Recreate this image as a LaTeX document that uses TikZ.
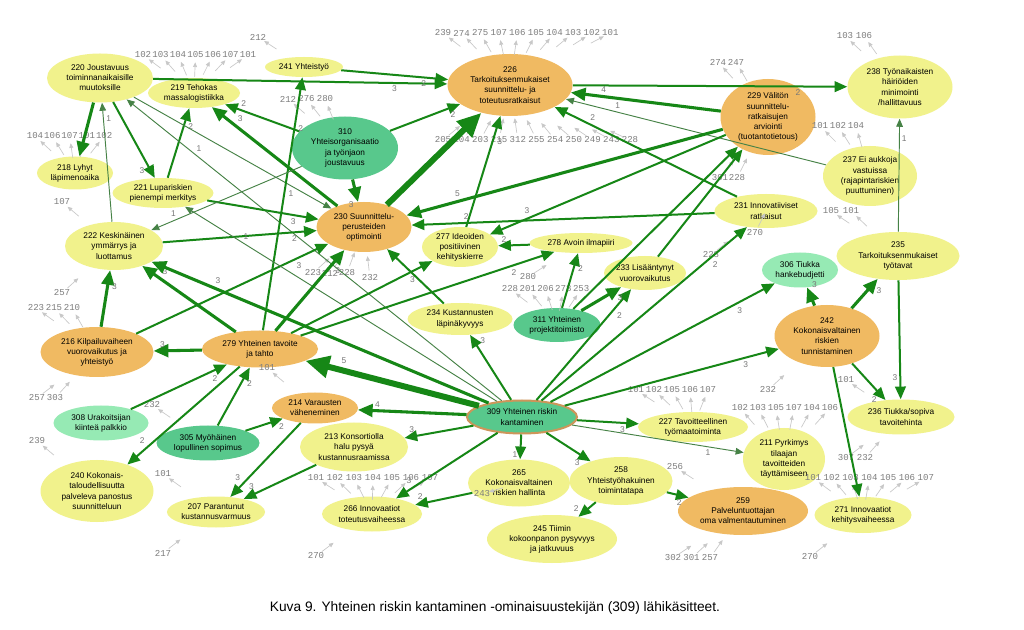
\documentclass[tikz,border=0pt]{standalone}
\usepackage{fontspec}
\setmainfont{Liberation Sans}
\newfontfamily\gnumfont{Liberation Mono}
\usetikzlibrary{shapes.geometric,arrows.meta,calc}
\definecolor{cyel}{RGB}{241,242,140}
\definecolor{corg}{RGB}{240,186,98}
\definecolor{cgrn}{RGB}{88,200,140}
\definecolor{clgr}{RGB}{150,234,180}
\definecolor{cbrd}{RGB}{205,150,90}
\definecolor{egreen}{RGB}{22,135,22}
\definecolor{ethin}{RGB}{70,130,70}
\definecolor{labgray}{RGB}{120,120,120}
\definecolor{numgray}{RGB}{125,125,125}
\definecolor{arrgray}{RGB}{200,200,200}
\newcommand\mkN[7]{\node[#6,minimum width={#4*0.75pt},minimum height={#5*0.75pt}] (#1) at (#2,#3) {#7};}
\newcommand\mkE[4]{\draw[#1] (#2) -- node[lab,pos=0.82,auto,swap]{#4} (#3);}
\newcommand\mkF[3]{\draw[#1] (#2) -- (#3);}
\newcommand\mkG[7]{\foreach \gtxt [count=\gi] in {#5}{\node[gnum] (#1\gi) at ({#2+(\gi-1)*#4},#3) {\gtxt}; \draw[garr,#7] ($(#1\gi)!5.5pt!(#6)$) -- ($(#1\gi)!16.5pt!(#6)$);}}
\tikzset{
 nd/.style={ellipse, inner sep=0pt, align=center, font=\fontsize{6.2}{7.6}\selectfont, text=black},
 yel/.style={nd, fill=cyel}, org/.style={nd, fill=corg}, grn/.style={nd, fill=cgrn}, lgr/.style={nd, fill=clgr},
 e1/.style={draw=ethin, line width=0.7pt, -{Triangle[length=6pt,width=5pt]}},
 e2/.style={draw=egreen, line width=1.5pt, -{Triangle[length=9.5pt,width=8pt]}},
 e3/.style={draw=egreen, line width=2.3pt, -{Triangle[length=11pt,width=9.5pt]}},
 e5/.style={draw=egreen, line width=4.5pt, -{Triangle[length=18pt,width=16pt]}},
 lab/.style={font=\fontsize{6.3}{6.3}\selectfont, text=labgray, inner sep=1.5pt},
 gnum/.style={font=\gnumfont\fontsize{6.8}{6.8}\selectfont, text=numgray, inner sep=0pt},
 garr/.style={draw=arrgray, line width=0.5pt, >={Triangle[length=3.5pt,width=3pt]}},
}
\begin{document}
\begin{tikzpicture}[x=0.75pt,y=-0.75pt]
\fill[white] (0,0) rectangle (1024,630);
\useasboundingbox (0,0) rectangle (1024,630);
% nodes
\mkN{n220}{100}{78}{106}{49}{yel}{220 Joustavuus\\toiminnanaikaisille\\muutoksille}
\mkN{n219}{194}{93}{92}{30}{yel}{219 Tehokas\\massalogistiikka}
\mkN{n241}{304}{67}{78}{20}{yel}{241 Yhteistyö}
\mkN{n226}{510}{85}{125}{62}{org}{226\\Tarkoituksenmukaiset\\suunnittelu- ja\\toteutusratkaisut}
\mkN{n229}{768}{117}{95}{76}{org}{229 Välitön\\suunnittelu-\\ratkaisujen\\arviointi\\(tuotantotietous)}
\mkN{n238}{900}{87}{105}{63}{yel}{238 Työnaikaisten\\häiriöiden\\minimointi\\/hallittavuus}
\mkN{n218}{75}{173}{76}{33}{yel}{218 Lyhyt\\läpimenoaika}
\mkN{n221}{163}{193}{101}{30}{yel}{221 Lupariskien\\pienempi merkitys}
\mkN{n310}{345}{148}{106}{63}{grn}{310\\Yhteisorganisaatio\\ja työnjaon\\joustavuus}
\mkN{n237}{870}{176}{94}{60}{yel}{237 Ei aukkoja\\vastuissa\\(rajapintariskien\\puuttuminen)}
\mkN{n222}{114}{246}{98}{48}{yel}{222 Keskinäinen\\ymmärrys ja\\luottamus}
\mkN{n230}{364}{227}{95}{50}{org}{230 Suunnittelu-\\perusteiden\\optimointi}
\mkN{n277}{460}{247}{76}{40}{yel}{277 Ideoiden\\positiivinen\\kehityskierre}
\mkN{n278}{581}{243}{103}{20}{yel}{278 Avoin ilmapiiri}
\mkN{n231}{766}{211}{103}{34}{yel}{231 Innovatiiviset\\ratkaisut}
\mkN{n235}{898}{256}{123}{48}{yel}{235\\Tarkoituksenmukaiset\\työtavat}
\mkN{n306}{800}{270}{76}{35}{lgr}{306 Tiukka\\hankebudjetti}
\mkN{n233}{645}{273}{82}{34}{yel}{233 Lisääntynyt\\vuorovaikutus}
\mkN{n234}{460}{319}{105}{32}{yel}{234 Kustannusten\\läpinäkyvyys}
\mkN{n311}{557}{325}{87}{34}{grn}{311 Yhteinen\\projektitoimisto}
\mkN{n216}{97}{352}{113}{50}{org}{216 Kilpailuvaiheen\\vuorovaikutus ja\\yhteistyö}
\mkN{n279}{260}{349}{116}{37}{org}{279 Yhteinen tavoite\\ja tahto}
\mkN{n242}{827}{336}{105}{62}{org}{242\\Kokonaisvaltainen\\riskien\\tunnistaminen}
\mkN{n308}{101}{423}{95}{35}{lgr}{308 Urakoitsijan\\kiinteä palkkio}
\mkN{n305}{208}{443}{103}{35}{grn}{305 Myöhäinen\\lopullinen sopimus}
\mkN{n214}{315}{408}{86}{31}{org}{214 Varausten\\väheneminen}
\mkN{n309}{522}{417}{110}{33}{grn,draw=cbrd,line width=1.5pt}{309 Yhteinen riskin\\kantaminen}
\mkN{n227}{693}{427}{110}{30}{yel}{227 Tavoitteellinen\\työmaatoiminta}
\mkN{n236}{901}{417}{107}{35}{yel}{236 Tiukka/sopiva\\tavoitehinta}
\mkN{n213}{354}{447}{108}{49}{yel}{213 Konsortiolla\\halu pysyä\\kustannusraamissa}
\mkN{n211}{784}{459}{82}{62}{yel}{211 Pyrkimys\\tilaajan\\tavoitteiden\\täyttämiseen}
\mkN{n240}{97}{491}{113}{62}{yel}{240 Kokonais-\\taloudellisuutta\\palveleva panostus\\suunnitteluun}
\mkN{n265}{519}{483}{102}{47}{yel}{265\\Kokonaisvaltainen\\riskien hallinta}
\mkN{n258}{621}{481}{103}{48}{yel}{258\\Yhteistyöhakuinen\\toimintatapa}
\mkN{n259}{743}{511}{130}{48}{org}{259\\Palveluntuottajan\\oma valmentautuminen}
\mkN{n207}{216}{512}{98}{31}{yel}{207 Parantunut\\kustannusvarmuus}
\mkN{n266}{372}{514}{100}{35}{yel}{266 Innovaatiot\\toteutusvaiheessa}
\mkN{n245}{552}{539}{130}{48}{yel}{245 Tiimin\\kokoonpanon pysyvyys\\ja jatkuvuus}
\mkN{n271}{863}{515}{97}{36}{yel}{271 Innovaatiot\\kehitysvaiheessa}
% gray number groups
\mkG{ga}{143}{55}{17.5}{102,103,104,105,106,107,101}{n219}{<-}
\mkG{gb}{258}{37}{0}{212}{n241}{<-}
\mkG{gc}{35}{136}{17.3}{104,106,107,101,102}{n218}{<-}
\mkG{gd}{62}{202}{0}{107}{n222}{<-}
\mkG{ge}{288}{99}{18.5}{212,276,280}{n310}{<-}
\mkG{gf}{443}{33}{18.6}{239,274,275,107,106,105,104,103,102,101}{n226}{<-}
\mkG{gg}{443}{140}{18.7}{205,204,203,215,312,255,254,250,249,243,228}{n226}{->}
\mkG{gh}{718}{62}{18}{274,247}{n229}{<-}
\mkG{gi}{845}{36}{19}{103,106}{n238}{<-}
\mkG{gj}{820}{126}{18}{101,102,104}{n237}{<-}
\mkG{gk}{720}{178}{17}{301,228}{n229}{->}
\mkG{gl}{831}{211}{20}{105,101}{n235}{<-}
\mkG{gm}{755}{233}{0}{270}{n231}{->}
\mkG{gn}{711}{255}{0}{228}{n231}{->}
\mkG{go}{313}{273}{17}{223,212,228}{n230}{->}
\mkG{gp}{370}{278}{0}{232}{n230}{->}
\mkG{gq}{528}{277}{0}{280}{n278}{->}
\mkG{gr}{510}{289}{17.8}{228,201,206,278,253}{n311}{<-}
\mkG{gs}{62}{293}{0}{257}{n222}{->}
\mkG{gt}{36}{308}{18}{223,215,210}{n216}{<-}
\mkG{gu}{37}{398}{18}{257,303}{n216}{->}
\mkG{gv}{37}{441}{0}{239}{n240}{<-}
\mkG{gw}{152}{405}{0}{232}{n305}{<-}
\mkG{gx}{163}{474}{0}{101}{n207}{<-}
\mkG{gy}{163}{553}{0}{217}{n207}{->}
\mkG{gz}{267}{368}{0}{101}{n214}{<-}
\mkG{ha}{636}{390}{18}{101,102,105,106,107}{n227}{<-}
\mkG{hb}{768}{390}{0}{232}{n242}{->}
\mkG{hc}{740}{408}{18}{102,103,105,107,104,106}{n211}{<-}
\mkG{hd}{846}{380}{0}{101}{n236}{<-}
\mkG{he}{846}{458}{19}{307,232}{n236}{->}
\mkG{hf}{813}{478}{18.8}{101,102,103,104,105,106,107}{n271}{<-}
\mkG{hg}{810}{557}{0}{270}{n271}{->}
\mkG{hh}{675}{467}{0}{256}{n259}{<-}
\mkG{hi}{482}{494}{0}{243}{n265}{<-}
\mkG{hj}{316}{478}{19}{101,102,103,104,105,106,107}{n266}{<-}
\mkG{hk}{316}{556}{0}{270}{n266}{->}
\mkG{hl}{673}{558}{18.5}{302,301,257}{n259}{->}
% edges
\mkE{e2}{n220}{n226}{3}
\mkE{e2}{n241}{n226}{2}
\mkF{e3}{n220}{n218}
\mkE{e1}{n222}{n220}{1}
\mkE{e2}{n220}{n221}{3}
\mkE{e2}{n221}{n219}{2}
\mkE{e1}{n220}{n230}{1}
\mkE{e1}{n309}{n220}{1}
\mkE{e3}{n230}{n219}{3}
\mkE{e2}{n310}{n219}{2}
\mkE{e2}{n279}{n241}{2}
\mkE{e2}{n310}{n226}{2}
\mkE{e3}{n310}{n230}{3}
\mkF{e5}{n230}{n226}
\mkE{e2}{n277}{n226}{3}
\mkE{e3}{n229}{n226}{4}
\mkE{e2}{n226}{n238}{2}
\mkE{e1}{n237}{n226}{1}
\mkE{e2}{n231}{n226}{2}
\mkE{e3}{n229}{n230}{5}
\mkE{e2}{n229}{n277}{3}
\mkE{e2}{n278}{n277}{2}
\mkE{e2}{n279}{n278}{2}
\mkE{e2}{n231}{n230}{2}
\mkF{e2}{n233}{n229}
\mkF{e2}{n311}{n229}
\mkE{e2}{n309}{n233}{2}
\mkE{e2}{n309}{n231}{2}
\mkE{e2}{n311}{n278}{2}
\mkE{e3}{n311}{n233}{3}
\mkE{e2}{n309}{n306}{3}
\mkE{e2}{n309}{n242}{3}
\mkE{e3}{n242}{n306}{3}
\mkE{e3}{n242}{n235}{3}
\mkE{e2}{n242}{n236}{2}
\mkF{e2}{n242}{n271}
\mkE{e2}{n235}{n236}{3}
\mkE{e1}{n235}{n238}{1}
\mkE{e3}{n216}{n222}{3}
\mkE{e3}{n279}{n216}{3}
\mkE{e3}{n279}{n222}{3}
\mkE{e3}{n309}{n222}{3}
\mkE{e2}{n216}{n230}{3}
\mkE{e2}{n222}{n230}{2}
\mkE{e2}{n221}{n230}{3}
\mkE{e1}{n310}{n222}{1}
\mkE{e1}{n309}{n221}{1}
\mkF{e2}{n234}{n230}
\mkE{e3}{n279}{n230}{3}
\mkE{e2}{n279}{n277}{3}
\mkE{e2}{n308}{n279}{2}
\mkE{e2}{n305}{n279}{2}
\mkE{e2}{n279}{n240}{2}
\mkE{e2}{n305}{n214}{2}
\mkE{e2}{n214}{n207}{3}
\mkE{e2}{n213}{n207}{3}
\mkE{e2}{n309}{n266}{3}
\mkE{e2}{n265}{n266}{2}
\mkE{e2}{n258}{n245}{2}
\mkE{e2}{n258}{n259}{2}
\mkE{e2}{n309}{n265}{1}
\mkE{e2}{n309}{n258}{3}
\mkE{e2}{n309}{n227}{3}
\mkE{e1}{n309}{n211}{1}
\mkE{e5}{n309}{n279}{5}
\mkE{e3}{n309}{n214}{4}
\mkE{e2}{n309}{n213}{3}
\mkE{e2}{n309}{n234}{3}
% caption
\node[font=\fontsize{10.3}{10.3}\selectfont] (cap) at (495,608) {Kuva 9. Yhteinen riskin kantaminen -ominaisuustekijän (309) lähikäsitteet.};
\end{tikzpicture}
\end{document}
